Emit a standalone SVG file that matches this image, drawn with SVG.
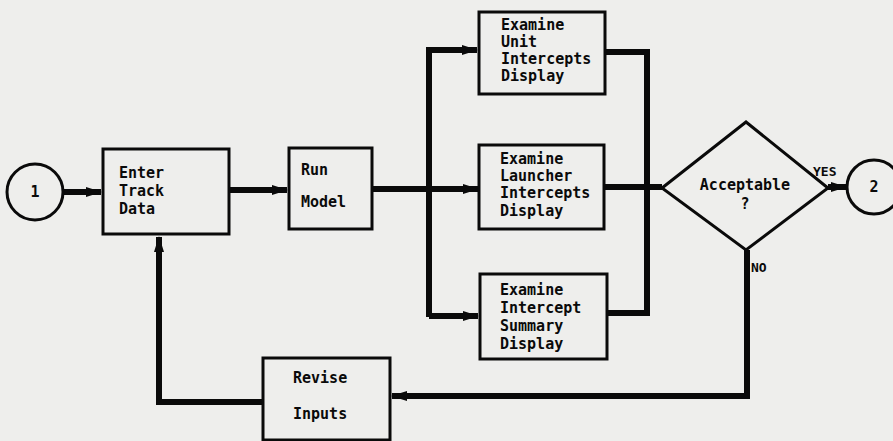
<svg xmlns="http://www.w3.org/2000/svg" width="893" height="441" viewBox="0 0 893 441">
<defs>
<marker id="ah" markerWidth="16" markerHeight="12" refX="15" refY="6" orient="auto" markerUnits="userSpaceOnUse">
<path d="M0,1 L16,6 L0,11 Z" fill="#0a0a0a"/>
</marker>
<style>
.box{fill:none;stroke:#0a0a0a;stroke-width:3}
.t{font-family:"DejaVu Sans Mono","Liberation Mono",monospace;font-weight:bold;font-size:15px;fill:#0a0a0a}
.s{font-family:"DejaVu Sans Mono","Liberation Mono",monospace;font-weight:bold;font-size:13px;fill:#0a0a0a}
.c{fill:none;stroke:#0a0a0a;stroke-width:6;stroke-linejoin:miter}
</style>
</defs>
<rect width="893" height="441" fill="#eeeeec"/>
<g id="connectors">
<path class="c" d="M63,192 H101" marker-end="url(#ah)"/>
<path class="c" d="M229,190 H287" marker-end="url(#ah)"/>
<path class="c" d="M372,189 H478" marker-end="url(#ah)"/>
<path class="c" d="M429,317 V50 H477" marker-end="url(#ah)"/>
<path class="c" d="M429,316 H478" marker-end="url(#ah)"/>
<path class="c" d="M605,52 H647 V313 H607"/>
<path class="c" d="M604,187 H662"/>
<path class="c" d="M828,187 H846" marker-end="url(#ah)"/>
<path class="c" d="M747,250 V396 H392" marker-end="url(#ah)"/>
<path class="c" d="M263,402 H159 V237" marker-end="url(#ah)"/>
<text class="s" x="813" y="176">YES</text>
<text class="s" x="751" y="272">NO</text>
</g>
<g id="start">
<circle cx="35" cy="192" r="28" fill="none" stroke="#0a0a0a" stroke-width="3"/>
<text class="t" x="35" y="197" text-anchor="middle">1</text>
</g>
<g id="enter">
<rect class="box" x="103" y="149" width="126" height="85"/>
<text class="t" x="119" y="178">Enter</text>
<text class="t" x="119" y="196">Track</text>
<text class="t" x="119" y="214">Data</text>
</g>
<g id="run">
<rect class="box" x="289" y="148" width="83" height="81"/>
<text class="t" x="301" y="175">Run</text>
<text class="t" x="301" y="207">Model</text>
</g>
<g id="unit">
<rect class="box" x="479" y="12" width="126" height="82"/>
<text class="t" x="501" y="30">Examine</text>
<text class="t" x="501" y="47">Unit</text>
<text class="t" x="501" y="64">Intercepts</text>
<text class="t" x="501" y="81">Display</text>
</g>
<g id="launcher">
<rect class="box" x="479" y="145" width="125" height="84"/>
<text class="t" x="500" y="164">Examine</text>
<text class="t" x="500" y="181">Launcher</text>
<text class="t" x="500" y="198">Intercepts</text>
<text class="t" x="500" y="216">Display</text>
</g>
<g id="summary">
<rect class="box" x="480" y="274" width="127" height="85"/>
<text class="t" x="500" y="295">Examine</text>
<text class="t" x="500" y="313">Intercept</text>
<text class="t" x="500" y="331">Summary</text>
<text class="t" x="500" y="349">Display</text>
</g>
<g id="decision">
<polygon points="662,188 746,122 828,188 746,250" fill="none" stroke="#0a0a0a" stroke-width="3"/>
<text class="t" x="745" y="190" text-anchor="middle">Acceptable</text>
<text class="t" x="745" y="209" text-anchor="middle">?</text>
</g>
<g id="end">
<circle cx="874" cy="187" r="27" fill="none" stroke="#0a0a0a" stroke-width="3"/>
<text class="t" x="874" y="192" text-anchor="middle">2</text>
</g>
<g id="revise">
<rect class="box" x="263" y="358" width="127" height="82"/>
<text class="t" x="293" y="383">Revise</text>
<text class="t" x="293" y="419">Inputs</text>
</g>
</svg>
